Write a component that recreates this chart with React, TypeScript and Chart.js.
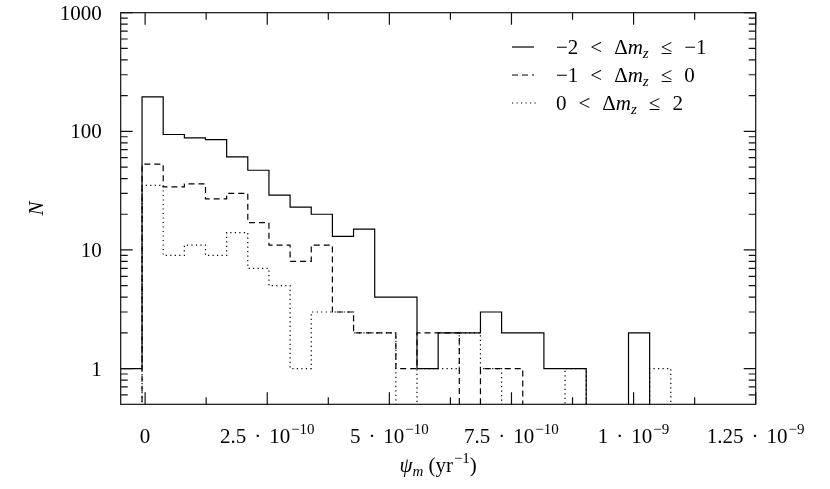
import { useEffect, useRef } from "react";
import { Chart, registerables } from "chart.js";

Chart.register(...registerables);

// Histogram bin edges (yr^-1)
const binEdges = [
  -0.496e-10, -0.063e-10, 0.37e-10, 0.803e-10, 1.236e-10, 1.669e-10, 2.102e-10,
  2.535e-10, 2.968e-10, 3.401e-10, 3.834e-10, 4.267e-10, 4.7e-10, 5.133e-10,
  5.566e-10, 5.999e-10, 6.432e-10, 6.865e-10, 7.298e-10, 7.731e-10, 8.164e-10,
  8.597e-10, 9.03e-10, 9.463e-10, 9.896e-10, 10.329e-10, 10.762e-10,
];

// Counts per bin
const countsA = [1, 195, 94, 88, 85, 61, 47, 29, 23, 20, 13, 15, 4, 4, 1, 2, 2, 3, 2, 2, 1, 1, 0, 0, 2, 0];
const countsB = [0, 53, 34, 36, 27, 30, 17, 11, 8, 11, 3, 2, 2, 1, 2, 2, 0, 1, 1, 0, 0, 0, 0, 0, 0, 0];
const countsC = [0, 35, 9, 11, 9, 14, 7, 5, 1, 3, 3, 2, 2, 0, 1, 1, 2, 1, 0, 0, 0, 1, 0, 0, 0, 1];

const xTickValues = [0, 2.5e-10, 5e-10, 7.5e-10, 1e-9, 1.25e-9];
const xTickMantissas = ["0", "2.5", "5", "7.5", "1", "1.25"];
const xTickExponents = ["", "−10", "−10", "−10", "−9", "−9"];
const xMinorTicks = [1.25e-10, 3.75e-10, 6.25e-10, 8.75e-10, 1.125e-9];

const yTickValues = [1, 10, 100, 1000];
const yTickLabels = ["1", "10", "100", "1000"];
const yMinorTicks = [
  0.6, 0.7, 0.8, 0.9, 2, 3, 4, 5, 6, 7, 8, 9, 20, 30, 40, 50, 60, 70, 80, 90,
  200, 300, 400, 500, 600, 700, 800, 900,
];

const X_MIN = -0.5e-10;
const X_MAX = 1.25e-9;
const Y_MIN = 0.5;
const Y_MAX = 1000;
const FLOOR = 0.3; // zero counts drawn below the axis (clipped)

const FAMILY = "'Liberation Serif', 'DejaVu Serif', serif";
const F_BASE = `21px ${FAMILY}`;
const F_IT = `italic 21px ${FAMILY}`;
const F_SMALL = `15px ${FAMILY}`;
const F_SMALL_IT = `italic 15px ${FAMILY}`;

const DASH = [6, 4];
const DOT = [1.2, 3.3];

function histPoints(counts: number[]) {
  const pts = counts.map((c, i) => ({ x: binEdges[i], y: c > 0 ? c : FLOOR }));
  pts.push({ x: binEdges[binEdges.length - 1], y: FLOOR });
  return pts;
}

type Run = { t: string; f: string; dy?: number; gap?: number };

function drawRuns(
  ctx: CanvasRenderingContext2D,
  runs: Run[],
  x: number,
  y: number,
  align: "left" | "center" | "right"
) {
  let w = 0;
  for (const r of runs) {
    ctx.font = r.f;
    w += ctx.measureText(r.t).width + (r.gap || 0);
  }
  let cx = align === "left" ? x : align === "center" ? x - w / 2 : x - w;
  ctx.textAlign = "left";
  ctx.textBaseline = "alphabetic";
  for (const r of runs) {
    ctx.font = r.f;
    ctx.fillText(r.t, cx, y + (r.dy || 0));
    cx += ctx.measureText(r.t).width + (r.gap || 0);
  }
}

function legendRuns(lo: string, hi: string): Run[] {
  return [
    { t: lo, f: F_BASE, gap: 12 },
    { t: "<", f: F_BASE, gap: 12 },
    { t: "Δ", f: F_BASE },
    { t: "m", f: F_IT },
    { t: "z", f: F_SMALL_IT, dy: 4, gap: 12 },
    { t: "≤", f: F_BASE, gap: 12 },
    { t: hi, f: F_BASE },
  ];
}

const framePlugin = {
  id: "framePlugin",
  afterDraw(chart: any) {
    const ctx: CanvasRenderingContext2D = chart.ctx;
    const { left, right, top, bottom } = chart.chartArea;
    const xs = chart.scales.x;
    const ys = chart.scales.y;
    ctx.save();
    ctx.strokeStyle = "#111";
    ctx.fillStyle = "#000";
    ctx.lineWidth = 1.2;
    ctx.setLineDash([]);

    // frame
    ctx.strokeRect(left, top, right - left, bottom - top);

    const MAJ = 12;
    const MIN = 7;
    ctx.beginPath();
    for (const v of xTickValues) {
      const px = xs.getPixelForValue(v);
      ctx.moveTo(px, bottom);
      ctx.lineTo(px, bottom - MAJ);
      ctx.moveTo(px, top);
      ctx.lineTo(px, top + MAJ);
    }
    for (const v of xMinorTicks) {
      const px = xs.getPixelForValue(v);
      ctx.moveTo(px, bottom);
      ctx.lineTo(px, bottom - MIN);
      ctx.moveTo(px, top);
      ctx.lineTo(px, top + MIN);
    }
    for (const v of yTickValues) {
      const py = ys.getPixelForValue(v);
      ctx.moveTo(left, py);
      ctx.lineTo(left + MAJ, py);
      ctx.moveTo(right, py);
      ctx.lineTo(right - MAJ, py);
    }
    for (const v of yMinorTicks) {
      const py = ys.getPixelForValue(v);
      ctx.moveTo(left, py);
      ctx.lineTo(left + MIN, py);
      ctx.moveTo(right, py);
      ctx.lineTo(right - MIN, py);
    }
    ctx.stroke();

    // y tick labels
    yTickValues.forEach((v, i) => {
      const py = ys.getPixelForValue(v);
      drawRuns(ctx, [{ t: yTickLabels[i], f: F_BASE }], left - 19, py + 7, "right");
    });

    // x tick labels
    xTickValues.forEach((v, i) => {
      const px = xs.getPixelForValue(v);
      const runs: Run[] = [{ t: xTickMantissas[i], f: F_BASE, gap: 8 }];
      if (xTickExponents[i]) {
        runs.push({ t: "·", f: F_BASE, gap: 8 });
        runs.push({ t: "10", f: F_BASE, gap: 1 });
        runs.push({ t: xTickExponents[i], f: F_SMALL, dy: -9 });
      } else {
        runs[0].gap = 0;
      }
      drawRuns(ctx, runs, px, bottom + 39, "center");
    });

    // x title
    drawRuns(
      ctx,
      [
        { t: "ψ", f: F_IT },
        { t: "m", f: F_SMALL_IT, dy: 4, gap: 5 },
        { t: "(yr", f: F_BASE, gap: 1 },
        { t: "−1", f: F_SMALL, dy: -9 },
        { t: ")", f: F_BASE },
      ],
      (left + right) / 2,
      bottom + 68,
      "center"
    );

    // y title
    ctx.save();
    ctx.translate(43, (top + bottom) / 2);
    ctx.rotate(-Math.PI / 2);
    drawRuns(ctx, [{ t: "N", f: F_IT }], 0, 0, "center");
    ctx.restore();

    // legend
    const rows: { label: Run[]; dash: number[]; len: number }[] = [
      { label: legendRuns("−2", "−1"), dash: [], len: 22 },
      { label: legendRuns("−1", "0"), dash: DASH, len: 22 },
      { label: legendRuns("0", "2"), dash: DOT, len: 27 },
    ];
    rows.forEach((r, i) => {
      const cy = 47 + i * 28;
      ctx.strokeStyle = "#000";
      ctx.lineWidth = 1.2;
      ctx.setLineDash(r.dash);
      ctx.beginPath();
      ctx.moveTo(512, cy);
      ctx.lineTo(512 + r.len, cy);
      ctx.stroke();
      ctx.setLineDash([]);
      drawRuns(ctx, r.label, 556, cy + 7, "left");
    });

    ctx.restore();
  },
};

export default function App() {
  const ref = useRef<HTMLCanvasElement>(null);
  useEffect(() => {
    document.body.style.margin = "0";
    const canvas = ref.current!;
    const common = {
      stepped: "before" as const,
      pointRadius: 0,
      fill: false,
      borderColor: "#000",
      borderWidth: 1.2,
      tension: 0,
    };
    const chart = new Chart(canvas, {
      type: "line",
      data: {
        datasets: [
          { ...common, label: "−2 < Δm_z ≤ −1", data: histPoints(countsA) },
          { ...common, label: "−1 < Δm_z ≤ 0", data: histPoints(countsB), borderDash: DASH },
          { ...common, label: "0 < Δm_z ≤ 2", data: histPoints(countsC), borderDash: DOT },
        ],
      },
      options: {
        animation: false,
        responsive: false,
        parsing: false as any,
        layout: { padding: { left: 120.7, right: 74.3, top: 12.7, bottom: 84.7 } },
        scales: {
          x: { type: "linear", min: X_MIN, max: X_MAX, display: false },
          y: { type: "logarithmic", min: Y_MIN, max: Y_MAX, display: false },
        },
        plugins: { legend: { display: false }, tooltip: { enabled: false } },
      },
      plugins: [framePlugin],
    });
    return () => chart.destroy();
  }, []);
  return (
    <div style={{ position: "absolute", left: 0, top: 0, width: 830, height: 489, background: "#fff" }}>
      <canvas ref={ref} width={830} height={489} style={{ display: "block" }} />
    </div>
  );
}
